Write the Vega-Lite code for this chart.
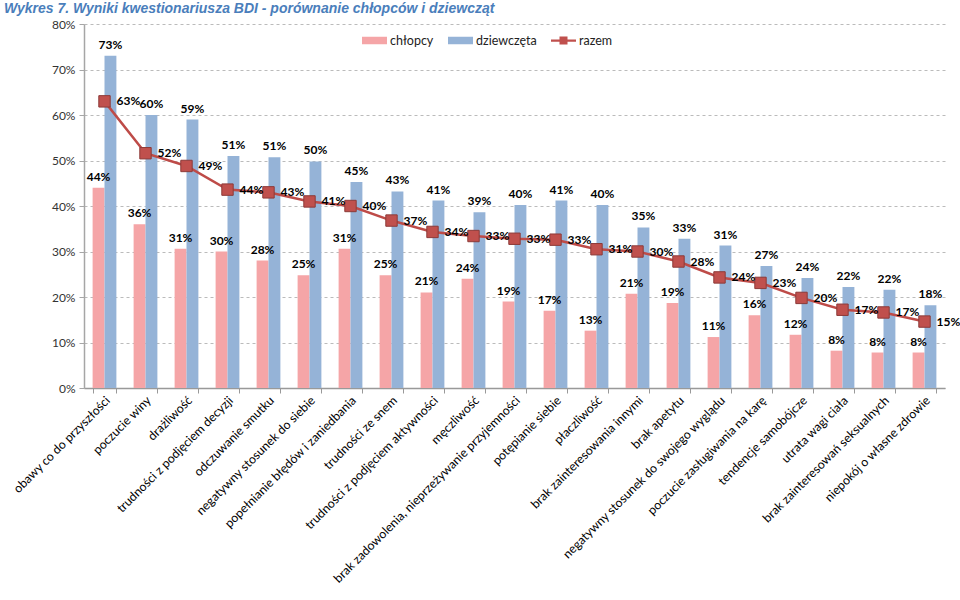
{
  "$schema": "https://vega.github.io/schema/vega-lite/v6.json",
  "width": 861,
  "height": 364,
  "autosize": "none",
  "padding": {"left": 84, "top": 24, "right": 15, "bottom": 212},
  "background": "white",
  "title": {
    "text": "Wykres 7. Wyniki kwestionariusza BDI - porównanie chłopców i dziewcząt",
    "anchor": "start",
    "frame": "group",
    "dx": -80,
    "offset": 2,
    "font": "Liberation Sans",
    "fontSize": 14,
    "fontWeight": "bold",
    "fontStyle": "italic",
    "color": "#4A7EBB"
  },
  "config": {"view": {"stroke": null}},
  "data": {
    "values": [
      {"kategoria": "obawy co do przyszłości", "grupa": "chłopcy", "wartosc": 0.44},
      {"kategoria": "obawy co do przyszłości", "grupa": "dziewczęta", "wartosc": 0.73},
      {"kategoria": "obawy co do przyszłości", "grupa": "razem", "wartosc": 0.63},
      {"kategoria": "poczucie winy", "grupa": "chłopcy", "wartosc": 0.36},
      {"kategoria": "poczucie winy", "grupa": "dziewczęta", "wartosc": 0.60},
      {"kategoria": "poczucie winy", "grupa": "razem", "wartosc": 0.516},
      {"kategoria": "drażliwość", "grupa": "chłopcy", "wartosc": 0.306},
      {"kategoria": "drażliwość", "grupa": "dziewczęta", "wartosc": 0.59},
      {"kategoria": "drażliwość", "grupa": "razem", "wartosc": 0.488},
      {"kategoria": "trudności z podjęciem decyzji", "grupa": "chłopcy", "wartosc": 0.30},
      {"kategoria": "trudności z podjęciem decyzji", "grupa": "dziewczęta", "wartosc": 0.51},
      {"kategoria": "trudności z podjęciem decyzji", "grupa": "razem", "wartosc": 0.436},
      {"kategoria": "odczuwanie smutku", "grupa": "chłopcy", "wartosc": 0.28},
      {"kategoria": "odczuwanie smutku", "grupa": "dziewczęta", "wartosc": 0.507},
      {"kategoria": "odczuwanie smutku", "grupa": "razem", "wartosc": 0.43},
      {"kategoria": "negatywny stosunek do siebie", "grupa": "chłopcy", "wartosc": 0.248},
      {"kategoria": "negatywny stosunek do siebie", "grupa": "dziewczęta", "wartosc": 0.498},
      {"kategoria": "negatywny stosunek do siebie", "grupa": "razem", "wartosc": 0.41},
      {"kategoria": "popełnianie błędów i zaniedbania", "grupa": "chłopcy", "wartosc": 0.306},
      {"kategoria": "popełnianie błędów i zaniedbania", "grupa": "dziewczęta", "wartosc": 0.453},
      {"kategoria": "popełnianie błędów i zaniedbania", "grupa": "razem", "wartosc": 0.40},
      {"kategoria": "trudności ze snem", "grupa": "chłopcy", "wartosc": 0.248},
      {"kategoria": "trudności ze snem", "grupa": "dziewczęta", "wartosc": 0.432},
      {"kategoria": "trudności ze snem", "grupa": "razem", "wartosc": 0.368},
      {"kategoria": "trudności z podjęciem aktywności", "grupa": "chłopcy", "wartosc": 0.21},
      {"kategoria": "trudności z podjęciem aktywności", "grupa": "dziewczęta", "wartosc": 0.412},
      {"kategoria": "trudności z podjęciem aktywności", "grupa": "razem", "wartosc": 0.343},
      {"kategoria": "męczliwość", "grupa": "chłopcy", "wartosc": 0.24},
      {"kategoria": "męczliwość", "grupa": "dziewczęta", "wartosc": 0.386},
      {"kategoria": "męczliwość", "grupa": "razem", "wartosc": 0.334},
      {"kategoria": "brak zadowolenia, nieprzeżywanie przyjemności", "grupa": "chłopcy", "wartosc": 0.19},
      {"kategoria": "brak zadowolenia, nieprzeżywanie przyjemności", "grupa": "dziewczęta", "wartosc": 0.402},
      {"kategoria": "brak zadowolenia, nieprzeżywanie przyjemności", "grupa": "razem", "wartosc": 0.328},
      {"kategoria": "potępianie siebie", "grupa": "chłopcy", "wartosc": 0.17},
      {"kategoria": "potępianie siebie", "grupa": "dziewczęta", "wartosc": 0.412},
      {"kategoria": "potępianie siebie", "grupa": "razem", "wartosc": 0.326},
      {"kategoria": "płaczliwość", "grupa": "chłopcy", "wartosc": 0.126},
      {"kategoria": "płaczliwość", "grupa": "dziewczęta", "wartosc": 0.402},
      {"kategoria": "płaczliwość", "grupa": "razem", "wartosc": 0.305},
      {"kategoria": "brak zainteresowania innymi", "grupa": "chłopcy", "wartosc": 0.207},
      {"kategoria": "brak zainteresowania innymi", "grupa": "dziewczęta", "wartosc": 0.353},
      {"kategoria": "brak zainteresowania innymi", "grupa": "razem", "wartosc": 0.30},
      {"kategoria": "brak apetytu", "grupa": "chłopcy", "wartosc": 0.187},
      {"kategoria": "brak apetytu", "grupa": "dziewczęta", "wartosc": 0.328},
      {"kategoria": "brak apetytu", "grupa": "razem", "wartosc": 0.278},
      {"kategoria": "negatywny stosunek do swojego wyglądu", "grupa": "chłopcy", "wartosc": 0.112},
      {"kategoria": "negatywny stosunek do swojego wyglądu", "grupa": "dziewczęta", "wartosc": 0.313},
      {"kategoria": "negatywny stosunek do swojego wyglądu", "grupa": "razem", "wartosc": 0.243},
      {"kategoria": "poczucie zasługiwania na karę", "grupa": "chłopcy", "wartosc": 0.16},
      {"kategoria": "poczucie zasługiwania na karę", "grupa": "dziewczęta", "wartosc": 0.268},
      {"kategoria": "poczucie zasługiwania na karę", "grupa": "razem", "wartosc": 0.231},
      {"kategoria": "tendencje samobójcze", "grupa": "chłopcy", "wartosc": 0.117},
      {"kategoria": "tendencje samobójcze", "grupa": "dziewczęta", "wartosc": 0.242},
      {"kategoria": "tendencje samobójcze", "grupa": "razem", "wartosc": 0.198},
      {"kategoria": "utrata wagi ciała", "grupa": "chłopcy", "wartosc": 0.082},
      {"kategoria": "utrata wagi ciała", "grupa": "dziewczęta", "wartosc": 0.222},
      {"kategoria": "utrata wagi ciała", "grupa": "razem", "wartosc": 0.172},
      {"kategoria": "brak zainteresowań seksualnych", "grupa": "chłopcy", "wartosc": 0.078},
      {"kategoria": "brak zainteresowań seksualnych", "grupa": "dziewczęta", "wartosc": 0.216},
      {"kategoria": "brak zainteresowań seksualnych", "grupa": "razem", "wartosc": 0.166},
      {"kategoria": "niepokój o własne zdrowie", "grupa": "chłopcy", "wartosc": 0.078},
      {"kategoria": "niepokój o własne zdrowie", "grupa": "dziewczęta", "wartosc": 0.182},
      {"kategoria": "niepokój o własne zdrowie", "grupa": "razem", "wartosc": 0.146}
    ]
  },
  "encoding": {
    "x": {
      "field": "kategoria",
      "type": "nominal",
      "scale": {
        "domain": ["obawy co do przyszłości", "poczucie winy", "drażliwość", "trudności z podjęciem decyzji", "odczuwanie smutku", "negatywny stosunek do siebie", "popełnianie błędów i zaniedbania", "trudności ze snem", "trudności z podjęciem aktywności", "męczliwość", "brak zadowolenia, nieprzeżywanie przyjemności", "potępianie siebie", "płaczliwość", "brak zainteresowania innymi", "brak apetytu", "negatywny stosunek do swojego wyglądu", "poczucie zasługiwania na karę", "tendencje samobójcze", "utrata wagi ciała", "brak zainteresowań seksualnych", "niepokój o własne zdrowie"],
        "paddingInner": 0.42,
        "paddingOuter": 0.21
      },
      "axis": {
        "title": null,
        "labelAngle": -45,
        "labelAlign": "right",
        "labelBaseline": "middle",
        "labelFont": "Lato",
        "labelFontSize": 12.3,
        "labelColor": "#000000",
        "labelPadding": 5,
        "labelOffset": 3,
        "labelLimit": 0,
        "tickBand": "extent",
        "tickSize": 5,
        "tickColor": "#999999",
        "domainColor": "#999999",
        "domainWidth": 1.5,
        "grid": false
      }
    },
    "y": {
      "field": "wartosc",
      "type": "quantitative",
      "scale": {"domain": [0, 0.8], "nice": false},
      "axis": {
        "title": null,
        "format": ".0%",
        "values": [0, 0.1, 0.2, 0.3, 0.4, 0.5, 0.6, 0.7, 0.8],
        "grid": true,
        "gridDash": [3, 3],
        "gridColor": "#BBBBBB",
        "domainColor": "#A6A6A6",
        "domainWidth": 1.5,
        "tickColor": "#A6A6A6",
        "tickSize": 5,
        "labelFont": "Lato",
        "labelFontSize": 12,
        "labelColor": "#333333",
        "labelPadding": 4
      }
    }
  },
  "layer": [
    {
      "transform": [{"filter": "datum.grupa !== 'razem'"}],
      "mark": {"type": "bar"},
      "encoding": {
        "xOffset": {"field": "grupa", "type": "nominal", "scale": {"domain": ["chłopcy", "dziewczęta"], "paddingInner": 0, "paddingOuter": 0}},
        "color": {
          "field": "grupa",
          "type": "nominal",
          "scale": {"domain": ["chłopcy", "dziewczęta", "razem"], "range": ["#F5A5A7", "#95B3D7", "#C0504D"]},
          "legend": {
            "orient": "none",
            "legendX": 278,
            "legendY": 4,
            "direction": "horizontal",
            "title": null,
            "labelFont": "Lato",
            "labelFontSize": 12.5,
            "labelColor": "#222222",
            "symbolSize": 625,
            "symbolStrokeWidth": 0,
            "symbolOpacity": 1,
            "columnPadding": 14,
            "labelOffset": 3,
            "encode": {
              "symbols": {
                "update": {
                  "shape": {"signal": "datum.value === 'razem' ? 'M-1,-0.09H1V0.09H-1Z M-0.32,-0.32H0.32V0.32H-0.32Z' : 'M-1,-0.3H1V0.3H-1Z'"}
                }
              }
            }
          }
        }
      }
    },
    {
      "transform": [{"filter": "datum.grupa !== 'razem'"}],
      "mark": {"type": "text", "font": "Lato", "fontSize": 12, "fontWeight": "bold", "baseline": "bottom", "dy": -4, "color": "#000000"},
      "encoding": {
        "xOffset": {"field": "grupa", "type": "nominal", "scale": {"domain": ["chłopcy", "dziewczęta"], "paddingInner": 0, "paddingOuter": 0}},
        "text": {"field": "wartosc", "type": "quantitative", "format": ".0%"}
      }
    },
    {
      "transform": [{"filter": "datum.grupa === 'razem'"}],
      "mark": {"type": "line", "color": "#BE4B48", "strokeWidth": 2.5},
      "encoding": {}
    },
    {
      "transform": [{"filter": "datum.grupa === 'razem'"}],
      "mark": {"type": "point", "shape": "square", "filled": true, "size": 130, "fill": "#C0504D", "stroke": "#8C3A38", "strokeWidth": 1, "opacity": 1},
      "encoding": {}
    },
    {
      "transform": [{"filter": "datum.grupa === 'razem'"}],
      "mark": {"type": "text", "font": "Lato", "fontSize": 12, "fontWeight": "bold", "align": "left", "baseline": "middle", "dx": 12, "color": "#000000"},
      "encoding": {
        "text": {"field": "wartosc", "type": "quantitative", "format": ".0%"}
      }
    }
  ]
}
